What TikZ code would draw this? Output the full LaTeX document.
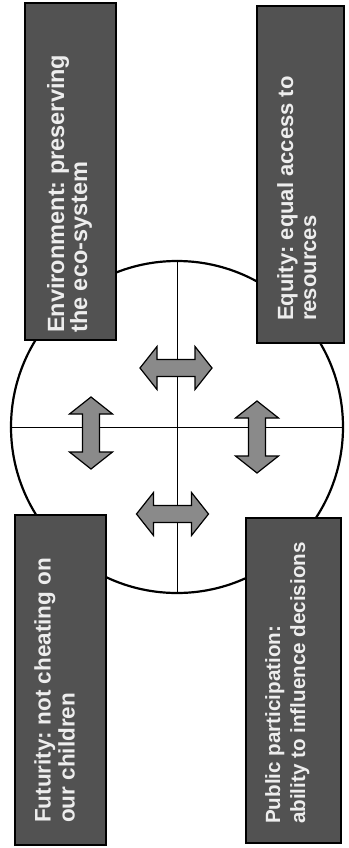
\documentclass[tikz,border=0pt]{standalone}
\usepackage{fontspec}
\setmainfont{Liberation Sans}
\frenchspacing
\definecolor{boxgray}{HTML}{525252}
\definecolor{arrowgray}{HTML}{8A8A8A}
\definecolor{boxtext}{HTML}{EDEDED}
\begin{document}
\begin{tikzpicture}[x=1pt,y=-1pt,
  panel/.style={draw=black, line width=1.6pt, fill=boxgray, inner sep=0pt},
  paneltext/.style={rotate=90, anchor=north west, inner sep=0pt, align=left, text=boxtext},
  wheelstyle/.style={draw=black, circle, line width=2.2pt, fill=white, inner sep=0pt, minimum size=332pt},
  crossline/.style={draw=black, line width=0.8pt},
  arrowbody/.style={draw=black, line width=1.2pt, fill=arrowgray, line join=miter},
  dblarrow/.pic={\path[arrowbody] (-36,0) -- (-19,-21.5) -- (-19,-8.5) -- (19,-8.5) -- (19,-21.5) -- (36,0) -- (19,21.5) -- (19,8.5) -- (-19,8.5) -- (-19,21.5) -- cycle;}
]
\useasboundingbox (0,0) rectangle (348,848);
\fill[white] (0,0) rectangle (348,848);

% central circle with cross
\node[wheelstyle] (wheel) at (177,427) {};
\draw[crossline] (wheel.north) -- (wheel.south);
\draw[crossline] (wheel.west) -- (wheel.east);

% four panels
\node[panel, minimum width=91pt, minimum height=337pt] (envbox) at (70.5,171.5) {};
\node[panel, minimum width=87pt, minimum height=337pt] (eqbox) at (300.5,174.5) {};
\node[panel, minimum width=91pt, minimum height=330pt] (futbox) at (60.5,680) {};
\node[panel, minimum width=95pt, minimum height=325pt] (pubbox) at (293.5,680.5) {};

% panel texts
\node[paneltext, font=\fontsize{23.5}{23}\selectfont\bfseries] (envtxt) at (47,333) {Environment: preserving\\the eco-system};
\node[paneltext, font=\fontsize{22}{23}\selectfont\bfseries] (eqtxt) at (277,321) {Equity: equal access to\\resources};
\node[paneltext, font=\fontsize{22.5}{24}\selectfont\bfseries] (futtxt) at (34,823) {Futurity: not cheating on\\our children};
\node[paneltext, font=\fontsize{20.6}{25}\selectfont\bfseries] (pubtxt) at (265,824) {Public participation:\\ability to influence decisions};

% double arrows
\pic (arrtop) at (176,368) {dblarrow};
\pic (arrbot) at (172.5,514) {dblarrow};
\pic[rotate=90] (arrleft) at (91,433) {dblarrow};
\pic[rotate=90] (arrright) at (257,437) {dblarrow};
\end{tikzpicture}
\end{document}
